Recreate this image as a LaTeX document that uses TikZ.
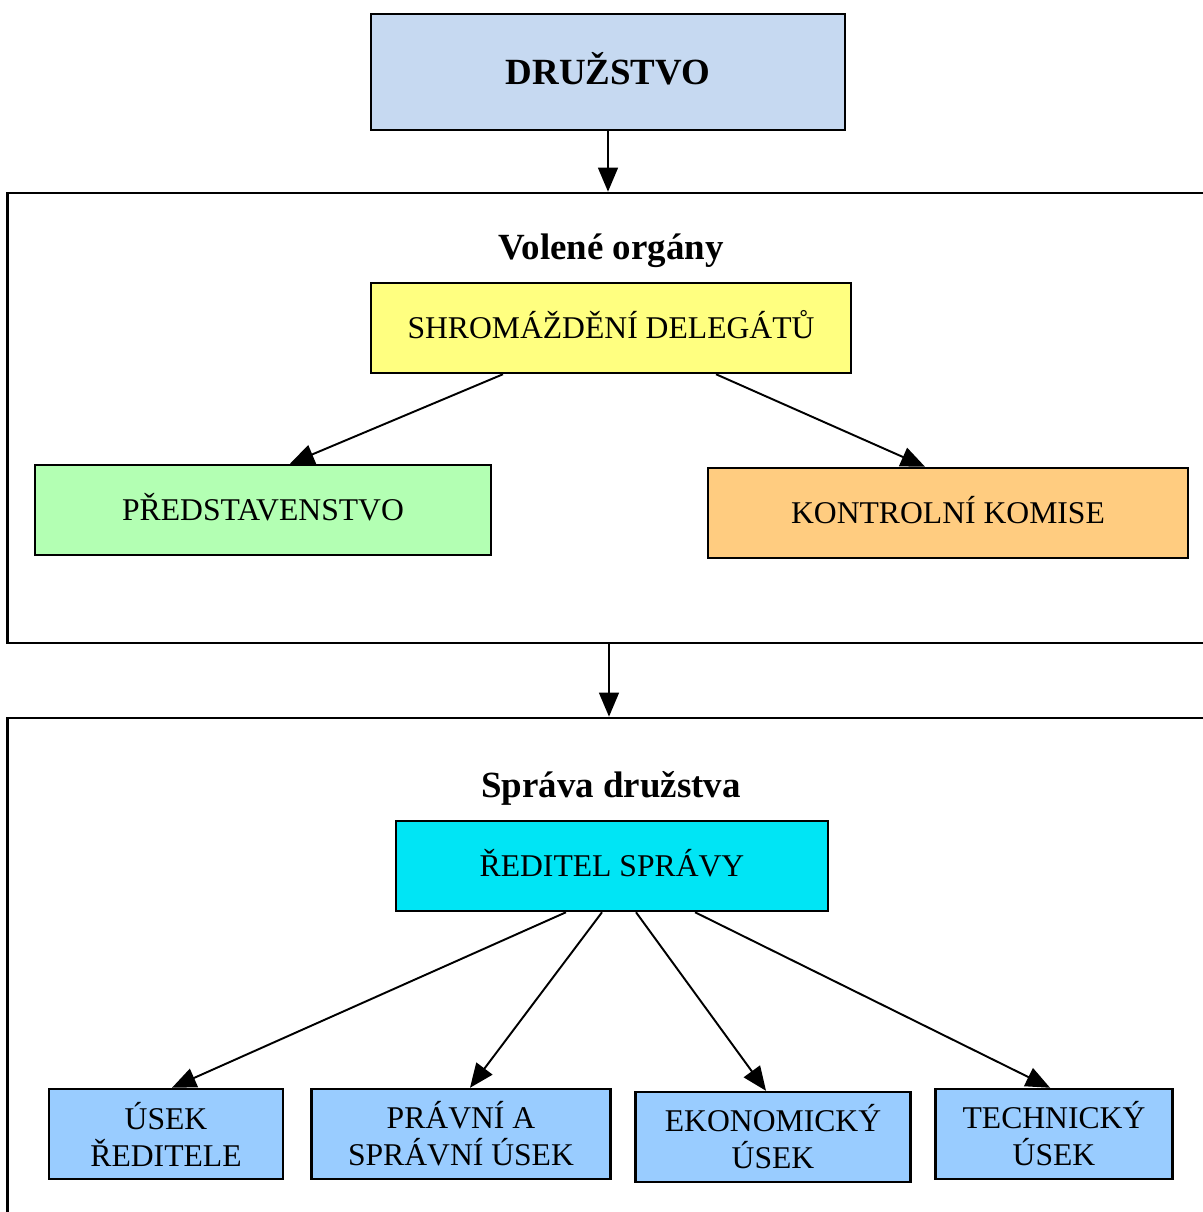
\documentclass[tikz,border=0pt]{standalone}
\usepackage{fontspec}
\setmainfont{Liberation Serif}
\usetikzlibrary{arrows}

\definecolor{druzblue}{HTML}{C6D9F1}
\definecolor{shromyellow}{HTML}{FFFF80}
\definecolor{predgreen}{HTML}{B3FFB3}
\definecolor{kontrorange}{HTML}{FFCC80}
\definecolor{redcyan}{HTML}{00E5F5}
\definecolor{usekblue}{HTML}{99CCFF}

\begin{document}
\begin{tikzpicture}[x=0.01cm,y=-0.01cm,>=triangle 45,
                    box/.style={rectangle,draw,line width=0.7pt,inner sep=0pt,align=center,
                                font=\fontsize{9}{10.5}\selectfont},
                    one line/.style={text height=7.4pt,text depth=1.5pt},
                    frame node/.style={rectangle,draw,line width=0.7pt,inner sep=0pt},
                    title node/.style={font=\fontsize{10.5}{12}\selectfont\bfseries}]

  \useasboundingbox (0,0) rectangle (1203,1212);
  \clip (0,0) rectangle (1203,1212);

  \node[box,fill=druzblue,minimum width=4.74cm,minimum height=1.16cm,text height=8.4pt,text depth=1.5pt,
        font=\fontsize{10.5}{12}\selectfont\bfseries] (druz) at (608,72) {DRUŽSTVO};

  % volene organy
  \node[frame node,minimum width=12.22cm,minimum height=4.5cm] (volene) at (619,418) {};
  \node[title node] (vtitle) at (611,251) {Volené orgány};
  \node[box,one line,fill=shromyellow,minimum width=4.8cm,minimum height=0.9cm] (shrom) at (611,328) {SHROMÁŽDĚNÍ DELEGÁTŮ};
  \node[box,one line,fill=predgreen,minimum width=4.56cm,minimum height=0.9cm] (pred) at (263,510) {PŘEDSTAVENSTVO};
  \node[box,one line,fill=kontrorange,minimum width=4.8cm,minimum height=0.9cm] (kontr) at (948,513) {KONTROLNÍ KOMISE};

  % sprava druzstva
  \node[frame node,minimum width=12.22cm,minimum height=5.3cm] (sprava) at (619,983) {};
  \node[title node] (stitle) at (611,788) {Správa družstva};
  \node[box,one line,fill=redcyan,minimum width=4.32cm,minimum height=0.9cm] (reditel) at (612,866) {ŘEDITEL SPRÁVY};
  \node[box,fill=usekblue,minimum width=2.34cm,minimum height=0.9cm] (u1) at (166,1134) {ÚSEK\\ŘEDITELE};
  \node[box,fill=usekblue,minimum width=2.99cm,minimum height=0.9cm] (u2) at (461,1134) {PRÁVNÍ A\\SPRÁVNÍ ÚSEK};
  \node[box,fill=usekblue,minimum width=2.75cm,minimum height=0.9cm] (u3) at (773,1137) {EKONOMICKÝ\\ÚSEK};
  \node[box,fill=usekblue,minimum width=2.37cm,minimum height=0.9cm] (u4) at (1054,1134) {TECHNICKÝ\\ÚSEK};

  \path[->,line width=0.55pt]
    (druz) edge (druz.south |- volene.north)
    ([xshift=-0.1cm]volene.south) edge ([xshift=-0.1cm]sprava.north)

    ([xshift=-1.08cm]shrom.south) edge ([xshift=0.27cm]pred.north)
    ([xshift=1.05cm]shrom.south) edge ([xshift=-0.23cm]kontr.north)

    ([xshift=-0.46cm]reditel.south) edge ([xshift=0.06cm]u1.north)
    ([xshift=-0.10cm]reditel.south) edge ([xshift=0.09cm]u2.north)
    ([xshift=0.24cm]reditel.south) edge ([xshift=-0.07cm]u3.north)
    ([xshift=0.83cm]reditel.south) edge ([xshift=-0.04cm]u4.north)
;
\end{tikzpicture}
\end{document}
